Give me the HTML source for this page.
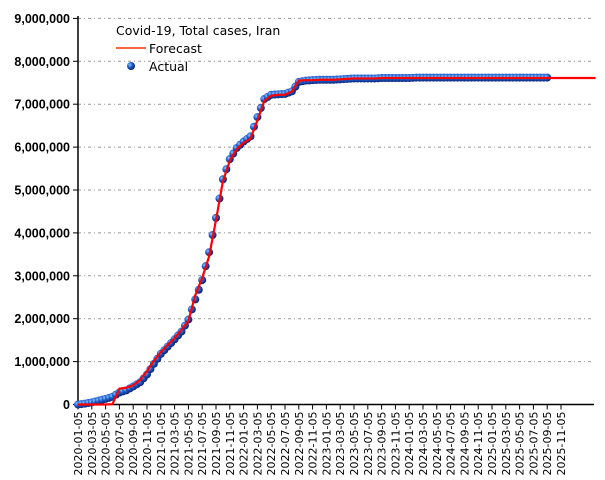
<!DOCTYPE html>
<html><head><meta charset="utf-8"><style>
body{margin:0;background:#fff}
svg{display:block;font-family:"DejaVu Sans","Liberation Sans",sans-serif}
</style></head><body>
<svg id="chart" width="605" height="480" viewBox="0 0 605 480">
<defs>
<radialGradient id="dotg" cx="0.35" cy="0.35" r="0.7">
<stop offset="0" stop-color="#8cc4ff"/><stop offset="0.45" stop-color="#1f5fd0"/><stop offset="1" stop-color="#081a66"/>
</radialGradient>
</defs>
<g id="grid"></g>
<g id="axes"></g>
<g id="series"></g>
<g>
<text x="116" y="35" font-size="12.5">Covid-19, Total cases, Iran</text>
<line x1="116" y1="48" x2="146" y2="48" stroke="#ff3300" stroke-width="1.5"/>
<text x="149" y="53" font-size="12.5">Forecast</text>
<circle cx="131" cy="66" r="4" fill="url(#dotg)"/>
<text x="149" y="71" font-size="12.5">Actual</text>
</g>
</svg>
<script>
const yTicks=[0,1000000,2000000,3000000,4000000,5000000,6000000,7000000,8000000,9000000];
const xTickLabels=[];
for(let y=2020;y<=2025;y++)for(const m of ["01","03","05","07","09","11"])xTickLabels.push(y+"-"+m+"-05");
// monthly values in millions starting 2020-01
const actual=[0,0.02,0.05,0.09,0.13,0.18,0.28,0.33,0.42,0.52,0.70,0.95,1.18,1.35,1.52,1.70,1.98,2.45,2.90,3.55,4.35,5.25,5.72,5.98,6.13,6.25,6.70,7.12,7.22,7.23,7.24,7.30,7.52,7.55,7.56,7.57,7.57,7.57,7.58,7.59,7.60,7.60,7.60,7.60,7.61,7.61,7.61,7.61,7.61,7.62,7.62,7.62,7.62,7.62,7.62,7.62,7.62,7.62,7.62,7.62,7.62,7.62,7.62,7.62,7.62,7.62,7.62,7.62,7.62];
const forecast=[0,0,0,0,0,0.01,0.37,0.39,0.45,0.57,0.78,1.02,1.22,1.39,1.55,1.74,1.95,2.55,2.95,3.45,4.30,5.20,5.68,5.95,6.10,6.20,6.62,7.08,7.20,7.22,7.22,7.30,7.55,7.56,7.56,7.57,7.57,7.57,7.58,7.59,7.60,7.60,7.60,7.60,7.61,7.61,7.61,7.61,7.61,7.61,7.61,7.61,7.61,7.61,7.61,7.61,7.61,7.61,7.61,7.61,7.61,7.61,7.61,7.61,7.61,7.61,7.61,7.61,7.61,7.61,7.61,7.61,7.61,7.61,7.61,7.61];
const NS="http://www.w3.org/2000/svg";
const X0=78,MONTH=6.9,Y0=404.5,PERM=42.9/1e6,XR=594;
function xs(m){return X0+MONTH*m}
function ys(v){return Y0-v*PERM}
function mk(t,a,p){const e=document.createElementNS(NS,t);for(const k in a)e.setAttribute(k,a[k]);p.appendChild(e);return e}
const grid=document.getElementById('grid'),axes=document.getElementById('axes'),ser=document.getElementById('series');
yTicks.forEach(v=>{
 const y=ys(v);
 if(v>0){const l=mk('line',{x1:X0,y1:y,x2:XR,y2:y,stroke:'#999','stroke-dasharray':'3,3,1,3'},grid);
 
 }
 const t=mk('line',{x1:X0-5,y1:y,x2:X0,y2:y,stroke:'#000'},axes);
 
 
 const tx=mk('text',{x:70,y:y+4.5,'text-anchor':'end','font-size':'12.5','font-weight':'bold','font-family':'"Liberation Sans",sans-serif'},axes);
 tx.textContent=v.toLocaleString('en-US');
 
 
});
xTickLabels.forEach((s,i)=>{
 const x=xs(i*2);
 const t=mk('line',{x1:x,y1:Y0,x2:x,y2:Y0+5,stroke:'#000'},axes);
 
 
 const tx=mk('text',{x:0,y:0,'text-anchor':'end','font-size':'11',transform:`translate(${x+4},${Y0+7}) rotate(-90)`},axes);
 tx.textContent=s;
 
 
});
const ya=mk('line',{x1:X0,y1:16,x2:X0,y2:Y0,stroke:'#000','stroke-width':1.5},axes);


const xa=mk('line',{x1:X0,y1:Y0,x2:XR,y2:Y0,stroke:'#000','stroke-width':1.5},axes);


actual.forEach((v,i)=>{
 const c=mk('circle',{cx:xs(i),cy:ys(v*1e6),r:4,fill:'url(#dotg)'},ser);
 
 
 if(i<actual.length-1){
  const c2=mk('circle',{cx:xs(i+0.5),cy:ys((v+actual[i+1])/2*1e6),r:4,fill:'url(#dotg)'},ser);
  
  
 }
});
const fl=mk('polyline',{points:forecast.map((v,i)=>xs(i)+','+ys(v*1e6)).join(' '),fill:'none',stroke:'#ff0000','stroke-width':2.2},ser);


</script>
</body></html>
